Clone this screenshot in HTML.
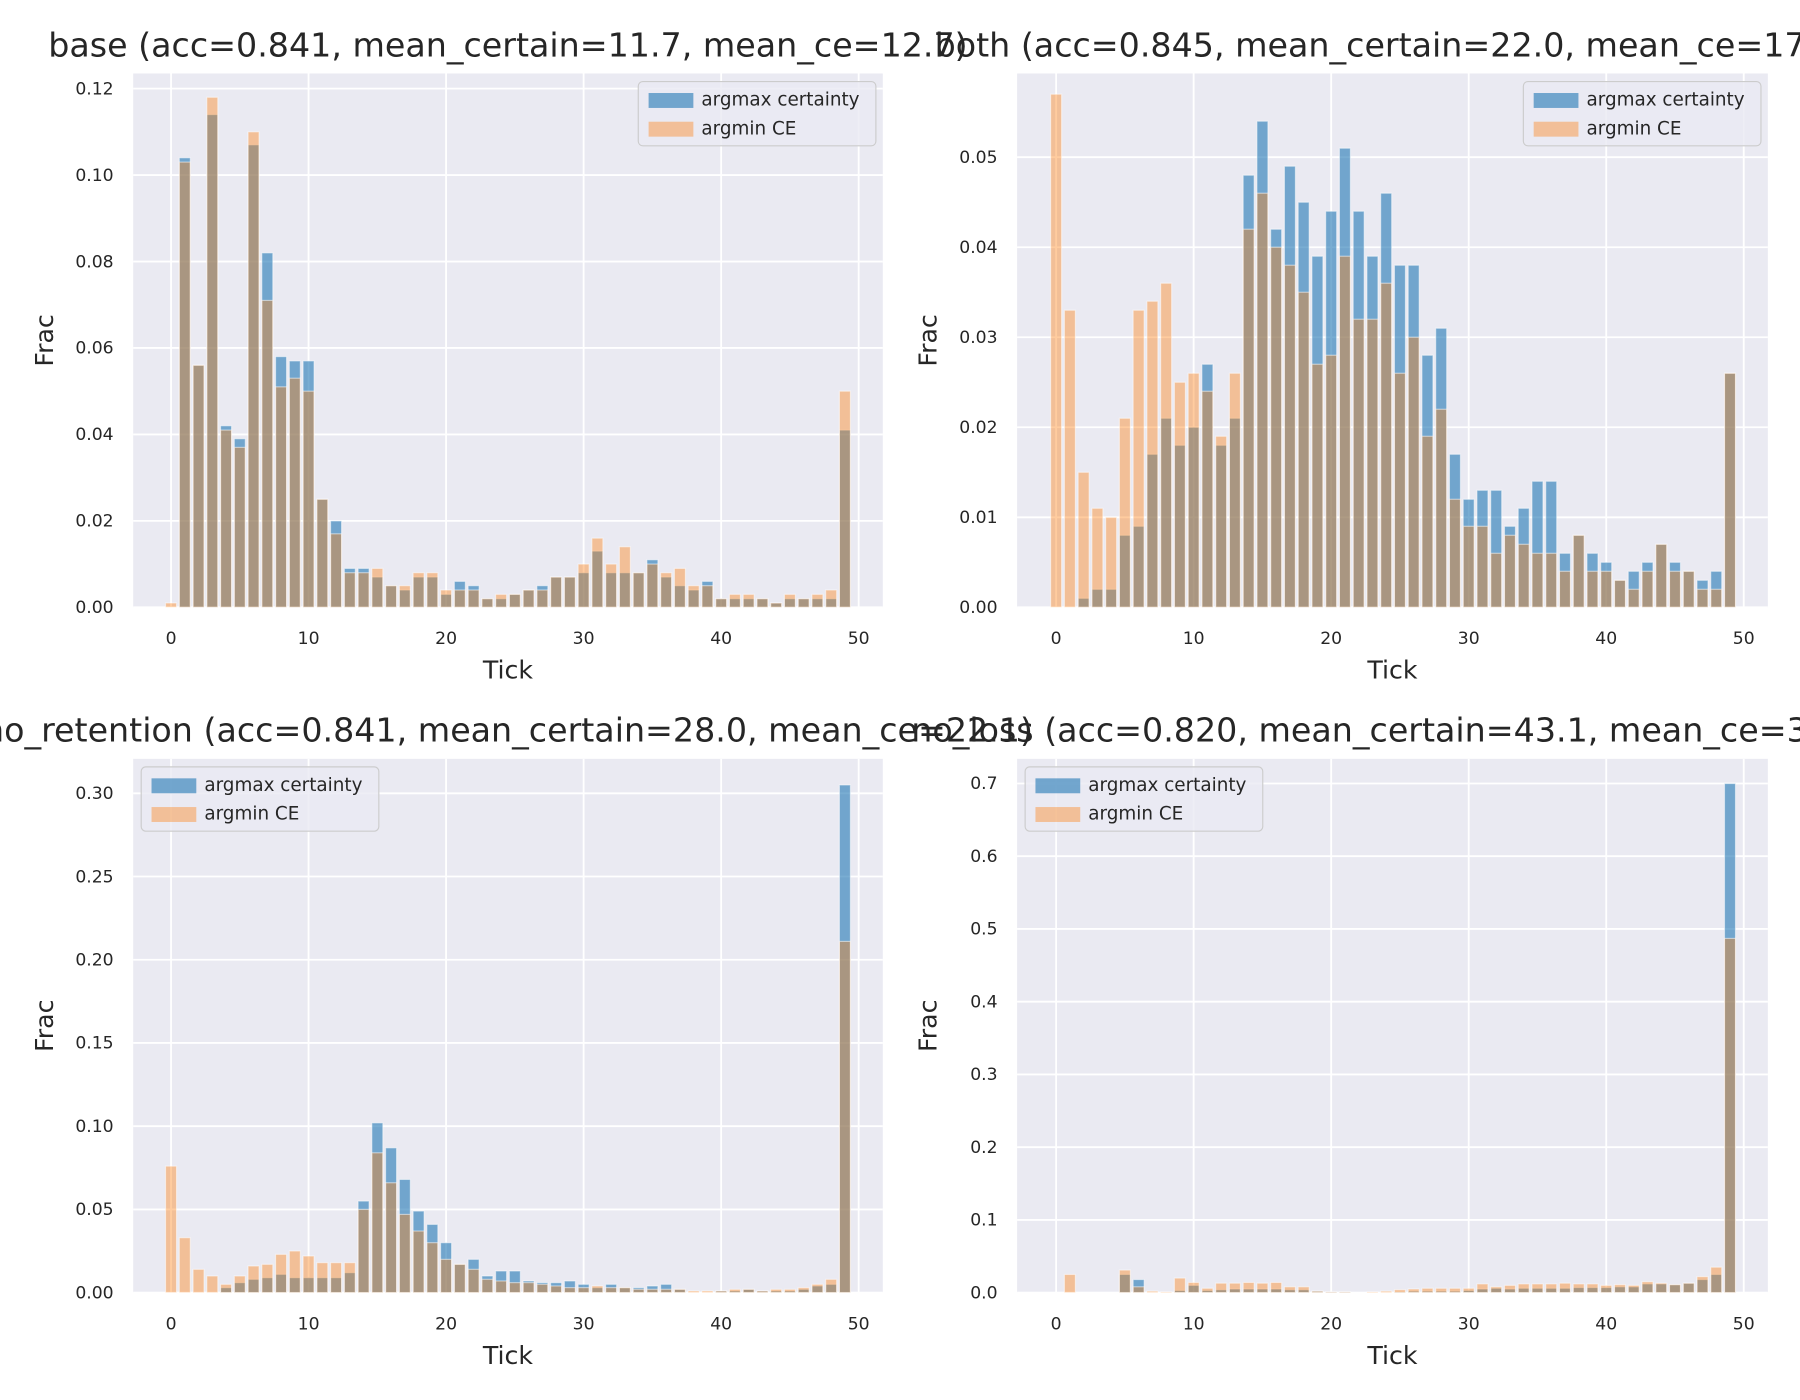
<!DOCTYPE html>
<html><head><meta charset="utf-8"><style>html,body{margin:0;padding:0;background:#fff;width:1800px;height:1400px;overflow:hidden}</style></head>
<body>
<svg id="s" width="1800" height="1400" viewBox="0 0 1568 1219.5" xmlns="http://www.w3.org/2000/svg" font-family="DejaVu Sans, Liberation Sans, sans-serif"></svg>
<script>
const br=[
[0,.104,.056,.114,.042,.039,.107,.082,.058,.057,.057,.025,.020,.009,.009,.007,.005,.004,.007,.007,.003,.006,.005,.002,.002,.003,.004,.005,.007,.007,.008,.013,.008,.008,.008,.011,.007,.005,.004,.006,.002,.002,.002,.002,.001,.002,.002,.002,.002,.041],
[.001,.103,.056,.118,.041,.037,.110,.071,.051,.053,.050,.025,.017,.008,.008,.009,.005,.005,.008,.008,.004,.004,.004,.002,.003,.003,.004,.004,.007,.007,.010,.016,.010,.014,.008,.010,.008,.009,.005,.005,.002,.003,.003,.002,.001,.003,.002,.003,.004,.050]];
const bo=[
[0,0,.001,.002,.002,.008,.009,.017,.021,.018,.020,.027,.018,.021,.048,.054,.042,.049,.045,.039,.044,.051,.044,.039,.046,.038,.038,.028,.031,.017,.012,.013,.013,.009,.011,.014,.014,.006,.008,.006,.005,.003,.004,.005,.007,.005,.004,.003,.004,.026],
[.057,.033,.015,.011,.010,.021,.033,.034,.036,.025,.026,.024,.019,.026,.042,.046,.040,.038,.035,.027,.028,.039,.032,.032,.036,.026,.030,.019,.022,.012,.009,.009,.006,.008,.007,.006,.006,.004,.008,.004,.004,.003,.002,.004,.007,.004,.004,.002,.002,.026]];
const nr=[
[0,0,0,0,.003,.006,.008,.009,.011,.009,.009,.009,.009,.012,.055,.102,.087,.068,.049,.041,.030,.017,.020,.010,.013,.013,.007,.006,.006,.007,.005,.003,.005,.003,.003,.004,.005,.002,0,0,.001,.001,.002,.001,.001,.001,.002,.004,.005,.305],
[.076,.033,.014,.010,.005,.010,.016,.017,.023,.025,.022,.018,.018,.018,.050,.084,.066,.047,.037,.030,.020,.017,.014,.008,.007,.006,.006,.005,.004,.003,.003,.004,.003,.003,.002,.002,.002,.002,.001,.001,.001,.002,.002,.001,.002,.002,.003,.005,.008,.211]];
const nlb=[0,0,0,0,0,.025,.018,0,0,.003,.010,.003,.004,.005,.005,.005,.005,.004,.004,.002,.001,.001,0,0,0,.001,.002,.002,.002,.002,.003,.005,.006,.005,.006,.006,.006,.006,.007,.007,.007,.008,.008,.012,.012,.011,.013,.018,.025,.700];
const nlo=[0,.025,0,0,0,.031,.008,.002,.001,.020,.014,.006,.013,.013,.014,.013,.014,.008,.008,.002,.001,.001,0,.001,.002,.004,.005,.006,.006,.006,.006,.012,.008,.010,.012,.012,.012,.013,.012,.012,.010,.011,.010,.015,.013,.011,.013,.022,.035,.487];
const panels=[
{x0:116,x1:769,y0:64,y1:529,t0:149,t50:748,ymax:0.1235,ticks:[0,.02,.04,.06,.08,.10,.12],fmt:2,d:br,title:"base (acc=0.841, mean_certain=11.7, mean_ce=12.7)",leg:"r"},
{x0:886,x1:1540,y0:64,y1:529,t0:920,t50:1519,ymax:0.0593,ticks:[0,.01,.02,.03,.04,.05],fmt:2,d:bo,title:"both (acc=0.845, mean_certain=22.0, mean_ce=17.3)",leg:"r"},
{x0:116,x1:769,y0:661,y1:1126,t0:149,t50:748,ymax:0.3207,ticks:[0,.05,.10,.15,.20,.25,.30],fmt:2,d:nr,title:"no_retention (acc=0.841, mean_certain=28.0, mean_ce=22.1)",leg:"l"},
{x0:886,x1:1540,y0:661,y1:1126,t0:920,t50:1519,ymax:0.7339,ticks:[0,.1,.2,.3,.4,.5,.6,.7],fmt:1,d:[nlb,nlo],title:"no_loss (acc=0.820, mean_certain=43.1, mean_ce=37.6)",leg:"l"}];
let h='<rect width="1568" height="1219.5" fill="#fff"/>';
for(const p of panels){
 const W=p.x1-p.x0,H=p.y1-p.y0,sx=(p.t50-p.t0)/50,X=t=>p.t0+t*sx,Y=v=>p.y1-v/p.ymax*H;
 h+=`<rect x="${p.x0}" y="${p.y0}" width="${W}" height="${H}" fill="#eaeaf2"/>`;
 for(let t=0;t<=50;t+=10){h+=`<line x1="${X(t)}" x2="${X(t)}" y1="${p.y0}" y2="${p.y1}" stroke="#fff" stroke-width="1.6"/><text x="${X(t)}" y="${p.y1+32}" font-size="15" fill="#262626" text-anchor="middle">${t}</text>`;}
 for(const v of p.ticks){h+=`<line x1="${p.x0}" x2="${p.x1}" y1="${Y(v)}" y2="${Y(v)}" stroke="#fff" stroke-width="1.6"/><text x="${p.x0-17}" y="${Y(v)+5}" font-size="15" fill="#262626" text-anchor="end">${v.toFixed(p.fmt)}</text>`;}
 const bw=0.8*sx;
 [[p.d[0],"#1f77b4",0.6],[p.d[1],"#ff7f0e",0.4]].forEach(([arr,c,a])=>{arr.forEach((v,i)=>{if(v<=0)return;const y=Y(v);h+=`<rect x="${X(i)-bw/2}" y="${y}" width="${bw}" height="${p.y1-y}" fill="${c}" fill-opacity="${a}" stroke="#fff" stroke-opacity="0.5" stroke-width="1"/>`;});});
 h+=`<text x="${(p.x0+p.x1)/2}" y="${p.y1+62}" font-size="22" fill="#262626" text-anchor="middle">Tick</text>`;
 h+=`<text transform="translate(${p.x0-70},${(p.y0+p.y1)/2}) rotate(-90)" font-size="22" fill="#262626" text-anchor="middle">Frac</text>`;
 h+=`<text x="${(p.x0+p.x1)/2}" y="${p.y0-15}" font-size="29" fill="#262626" text-anchor="middle">${p.title}</text>`;
 const lx=p.leg=="r"?p.x1-213:p.x0+7, ly=p.y0+7;
 h+=`<rect x="${lx}" y="${ly}" width="207" height="56" rx="4" fill="#eaeaf2" fill-opacity="0.8" stroke="#ccc"/>`;
 h+=`<rect x="${lx+9}" y="${ly+10}" width="39" height="13" fill="#1f77b4" fill-opacity="0.6"/><text x="${lx+55}" y="${ly+21}" font-size="16" fill="#262626">argmax certainty</text>`;
 h+=`<rect x="${lx+9}" y="${ly+35}" width="39" height="13" fill="#ff7f0e" fill-opacity="0.4"/><text x="${lx+55}" y="${ly+46}" font-size="16" fill="#262626">argmin CE</text>`;
}
document.getElementById('s').innerHTML=h;
</script>
</body></html>
